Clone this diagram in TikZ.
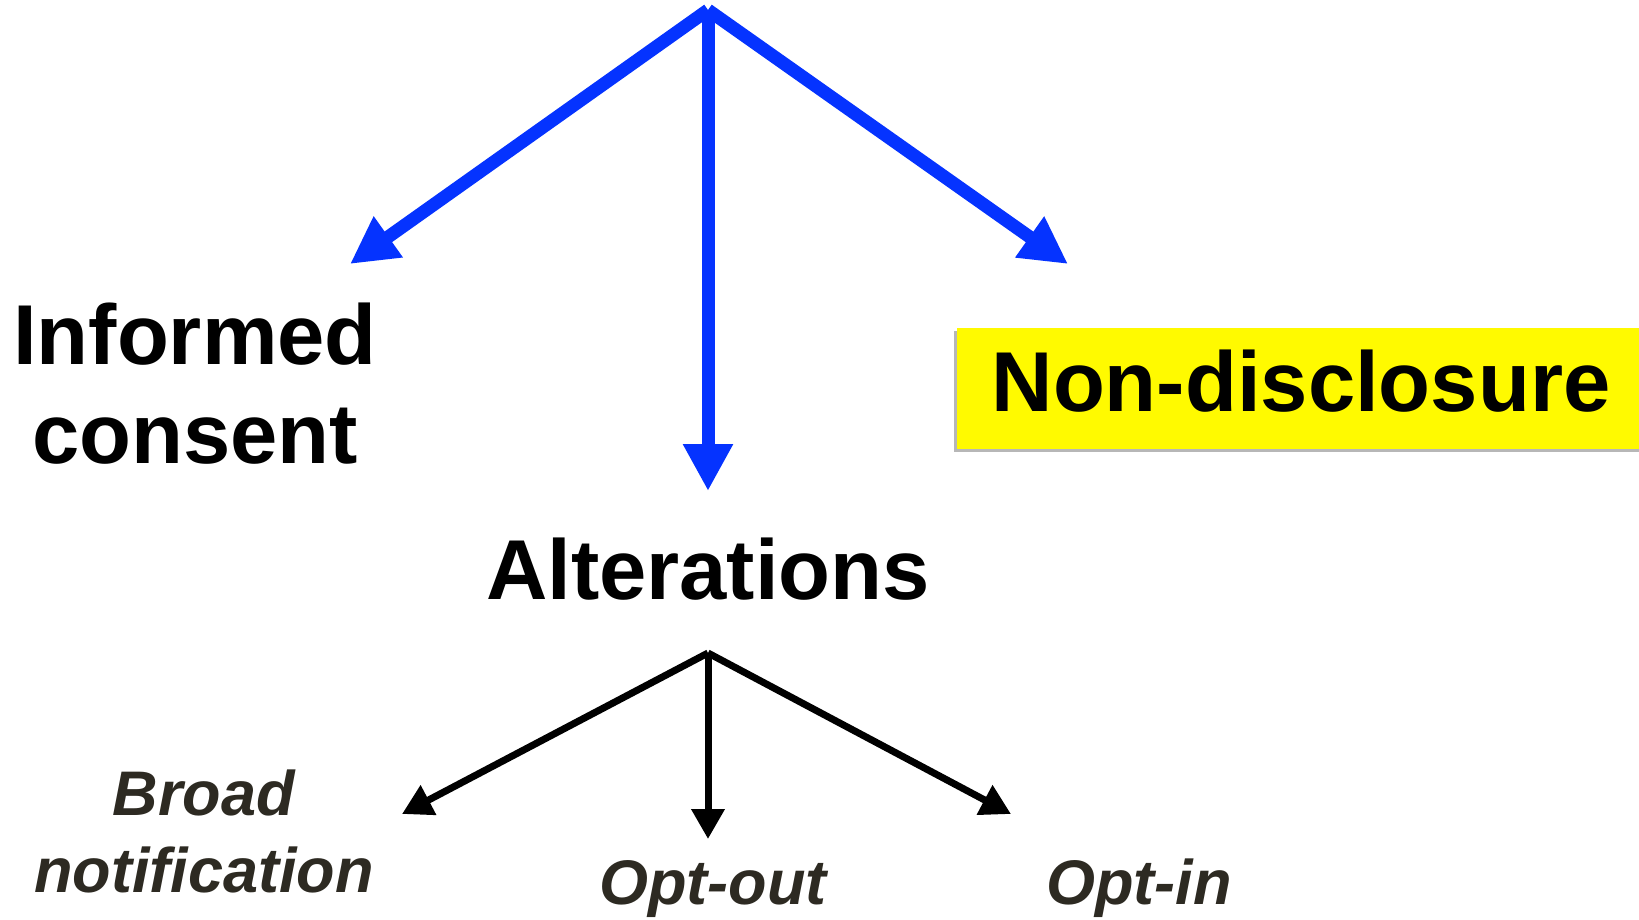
\documentclass[tikz,border=0pt]{standalone}
\usepackage{fontspec}
\setmainfont{Liberation Sans}
\usetikzlibrary{arrows.meta,shadows}
\definecolor{arrowblue}{RGB}{5,51,255}
\definecolor{boxyellow}{RGB}{255,250,0}
\definecolor{darktext}{RGB}{45,42,34}
\tikzset{
  bluearrow/.style={draw=arrowblue, line width=13pt, -{Triangle[length=47pt,width=47pt]}, arrowblue},
  blackarrow/.style={draw=black, line width=7pt, -{Triangle[length=30pt,width=32pt]}},
  bigtext/.style={font=\fontsize{85}{99}\selectfont\bfseries, text=black, inner sep=0pt, align=center, anchor=base},
  smalltext/.style={font=\fontsize{63}{77}\selectfont\bfseries\itshape, text=darktext, inner sep=0pt, align=center, anchor=base},
  yellowbox/.style={fill=boxyellow, draw=none, minimum width=690pt, minimum height=121pt, inner sep=0pt,
    drop shadow={shadow xshift=-3pt, shadow yshift=-3pt, fill=black!35, opacity=0.8}},
}
\begin{document}
\begin{tikzpicture}[x=1pt,y=-1pt]
\useasboundingbox[fill=white] (0,0) rectangle (1639,919);
% top level
\coordinate (top) at (708,10);
\coordinate (icTip) at (350,264);
\coordinate (altTip) at (708,491);
\coordinate (ndTip) at (1068,264);
\node[yellowbox] (ndbox) at (1302,388.5) {};
\node[bigtext] (nd) at (1301,411) {Non-disclosure};
\node[bigtext] (ic) at (195,463) {Informed\\consent};
\node[bigtext] (alt) at (708,599) {Alterations};
\draw[bluearrow] (top) -- (icTip);
\draw[bluearrow] (top) -- (ndTip);
\draw[bluearrow] (top) -- (altTip);
% second level
\coordinate (mid) at (708,653);
\coordinate (bnTip) at (402,814);
\coordinate (ooTip) at (708,839);
\coordinate (oiTip) at (1011,814);
\node[smalltext] (bn) at (204,892) {Broad\\notification};
\node[smalltext] (oo) at (713,904) {Opt-out};
\node[smalltext] (oi) at (1139,904) {Opt-in};
\draw[blackarrow] (mid) -- (bnTip);
\draw[blackarrow] (mid) -- (oiTip);
\draw[blackarrow] (mid) -- (ooTip);
\end{tikzpicture}
\end{document}
